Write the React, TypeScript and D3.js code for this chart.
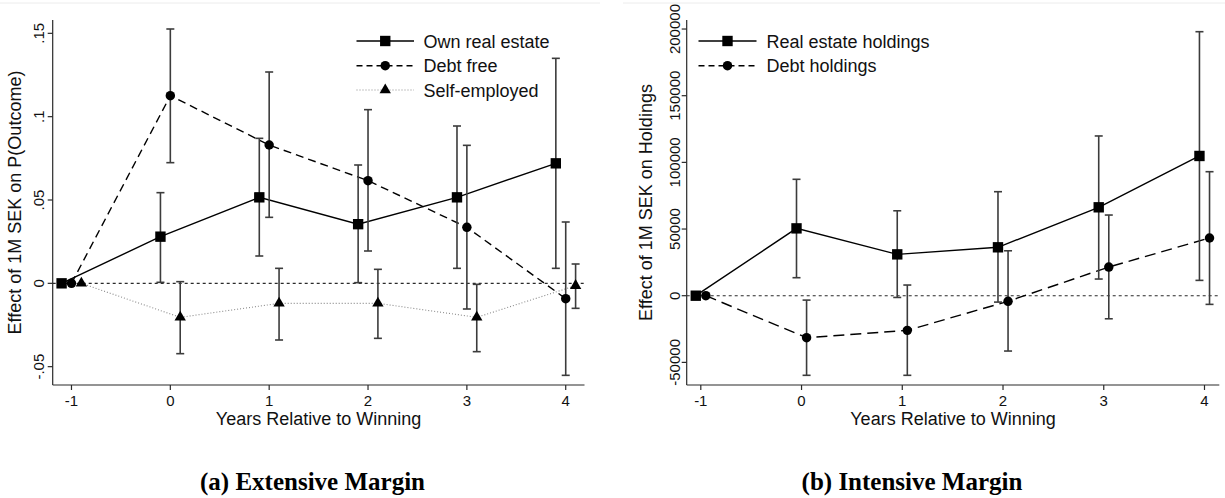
import React from "react";
import * as d3 from "d3";

// Event-time estimates: effect of a 1M SEK lottery prize, by year relative to winning
const years = [-1, 0, 1, 2, 3, 4];

// (a) Extensive margin: effect on the probability of each outcome
const ownRealEstate = [0, 0.028, 0.0516, 0.0355, 0.0516, 0.072];
const ownRealEstateLo = [null, 0.0006, 0.0164, 0.0004, 0.009, 0.009];
const ownRealEstateHi = [null, 0.0544, 0.087, 0.071, 0.0944, 0.135];

const debtFree = [0, 0.1126, 0.083, 0.0616, 0.0336, -0.0092];
const debtFreeLo = [null, 0.0724, 0.0396, 0.0194, -0.0154, -0.0552];
const debtFreeHi = [null, 0.1526, 0.1268, 0.1042, 0.0828, 0.0368];

const selfEmployed = [0, -0.0204, -0.012, -0.012, -0.0204, -0.0014];
const selfEmployedLo = [null, -0.0422, -0.034, -0.033, -0.041, -0.015];
const selfEmployedHi = [null, 0.001, 0.009, 0.0084, -0.0006, 0.0116];

// (b) Intensive margin: effect on holdings (SEK)
const realEstateHoldings = [0, 50500, 31000, 36300, 66300, 104800];
const realEstateHoldingsLo = [null, 13500, -1300, -4800, 12500, 11500];
const realEstateHoldingsHi = [null, 87300, 63700, 78000, 119800, 198000];

const debtHoldings = [0, -31500, -26000, -4200, 21500, 43300];
const debtHoldingsLo = [null, -59700, -59700, -41500, -17300, -6500];
const debtHoldingsHi = [null, -3300, 8000, 33700, 60500, 93000];

// Tick labels
const xTicks = [-1, 0, 1, 2, 3, 4];
const yTicksA = [-0.05, 0, 0.05, 0.1, 0.15];
const yTickLabelsA = ["-.05", "0", ".05", ".1", ".15"];
const yTicksB = [-50000, 0, 50000, 100000, 150000, 200000];
const yTickLabelsB = ["-50000", "0", "50000", "100000", "150000", "200000"];

type Series = {
  label: string;
  values: number[];
  lo: (number | null)[];
  hi: (number | null)[];
  offset: number;
  marker: "square" | "circle" | "triangle";
  dash: string | null;
  legendDash: string | null;
  stroke: string;
  width: number;
};

const SANS = "'Liberation Sans', Arial, Helvetica, sans-serif";
const SERIF = "'Liberation Serif', 'Times New Roman', serif";
const AXIS = "#2a2a2a";
const BAR = "#3c3c3c";

const markerPath = (m: Series["marker"]) => {
  const type =
    m === "square" ? d3.symbolSquare : m === "circle" ? d3.symbolCircle : d3.symbolTriangle;
  const size = m === "square" ? 108 : m === "circle" ? 70 : 56;
  return d3.symbol().type(type).size(size)() as string;
};

type PanelProps = {
  xRange: [number, number];
  xDomain: [number, number];
  yRange: [number, number];
  yDomain: [number, number];
  yTicks: number[];
  yTickLabels: string[];
  yTickBaseline: number;
  yTitle: string;
  yTitleBaseline: number;
  series: Series[];
  legend: { lineX0: number; lineX1: number; textX: number; rowY: number[] };
};

function Panel(p: PanelProps) {
  const x = d3.scaleLinear().domain(p.xDomain).range(p.xRange);
  const y = d3.scaleLinear().domain(p.yDomain).range(p.yRange);
  const [x0, x1] = p.xRange;
  const [yb, yt] = p.yRange;

  return (
    <g>
      {/* zero reference line */}
      <line x1={x0} x2={x1} y1={y(0)} y2={y(0)} stroke={AXIS} strokeWidth={1.1} strokeDasharray="3,3" />

      {/* series lines */}
      {p.series.map((s) => {
        const line = d3
          .line<number>()
          .x((_, i) => x(years[i] + s.offset))
          .y((v) => y(v));
        return (
          <path
            key={s.label + "-line"}
            d={line(s.values) as string}
            fill="none"
            stroke={s.stroke}
            strokeWidth={s.width}
            strokeDasharray={s.dash ?? undefined}
          />
        );
      })}

      {/* confidence intervals */}
      {p.series.map((s) =>
        s.values.map((_, i) => {
          const lo = s.lo[i];
          const hi = s.hi[i];
          if (lo == null || hi == null) return null;
          const cx = x(years[i] + s.offset);
          return (
            <g key={s.label + "-ci-" + i} stroke={BAR} strokeWidth={1.6}>
              <line x1={cx} x2={cx} y1={y(lo)} y2={y(hi)} />
              <line x1={cx - 4} x2={cx + 4} y1={y(lo)} y2={y(lo)} />
              <line x1={cx - 4} x2={cx + 4} y1={y(hi)} y2={y(hi)} />
            </g>
          );
        })
      )}

      {/* markers */}
      {p.series.map((s) =>
        s.values.map((v, i) => (
          <path
            key={s.label + "-m-" + i}
            d={markerPath(s.marker)}
            transform={`translate(${x(years[i] + s.offset)},${y(v)})`}
            fill="#000"
          />
        ))
      )}

      {/* axes */}
      <line x1={x0} x2={x0} y1={yt} y2={yb} stroke={AXIS} strokeWidth={1.2} />
      <line x1={x0} x2={x1} y1={yb} y2={yb} stroke={AXIS} strokeWidth={1.2} />

      {p.yTicks.map((t, i) => (
        <g key={"yt" + t}>
          <line x1={x0 - 5} x2={x0} y1={y(t)} y2={y(t)} stroke={AXIS} strokeWidth={1.2} />
          <text
            transform={`translate(${p.yTickBaseline},${y(t)}) rotate(-90)`}
            textAnchor="middle"
            fontFamily={SANS}
            fontSize={15}
            fill="#111"
          >
            {p.yTickLabels[i]}
          </text>
        </g>
      ))}

      {xTicks.map((t) => (
        <g key={"xt" + t}>
          <line x1={x(t)} x2={x(t)} y1={yb} y2={yb + 5} stroke={AXIS} strokeWidth={1.2} />
          <text x={x(t)} y={405.5} textAnchor="middle" fontFamily={SANS} fontSize={15} fill="#111">
            {t}
          </text>
        </g>
      ))}

      <text
        x={(x0 + x1) / 2}
        y={425}
        textAnchor="middle"
        fontFamily={SANS}
        fontSize={18}
        fill="#111"
      >
        Years Relative to Winning
      </text>
      <text
        transform={`translate(${p.yTitleBaseline},${(yb + yt) / 2}) rotate(-90)`}
        textAnchor="middle"
        fontFamily={SANS}
        fontSize={18}
        fill="#111"
      >
        {p.yTitle}
      </text>

      {/* legend */}
      {p.series.map((s, i) => {
        const ry = p.legend.rowY[i];
        const mx = (p.legend.lineX0 + p.legend.lineX1) / 2;
        return (
          <g key={s.label + "-leg"}>
            <line
              x1={p.legend.lineX0}
              x2={p.legend.lineX1}
              y1={ry}
              y2={ry}
              stroke={s.stroke}
              strokeWidth={s.width}
              strokeDasharray={s.legendDash ?? undefined}
            />
            <path d={markerPath(s.marker)} transform={`translate(${mx},${ry})`} fill="#000" />
            <text x={p.legend.textX} y={ry + 6.5} fontFamily={SANS} fontSize={18} fill="#111">
              {s.label}
            </text>
          </g>
        );
      })}
    </g>
  );
}

export default function App() {
  const seriesA: Series[] = [
    {
      label: "Own real estate",
      values: ownRealEstate,
      lo: ownRealEstateLo,
      hi: ownRealEstateHi,
      offset: -0.1,
      marker: "square",
      dash: null,
      legendDash: null,
      stroke: "#000",
      width: 1.4,
    },
    {
      label: "Debt free",
      values: debtFree,
      lo: debtFreeLo,
      hi: debtFreeHi,
      offset: 0,
      marker: "circle",
      dash: "8,5",
      legendDash: "6,4",
      stroke: "#000",
      width: 1.4,
    },
    {
      label: "Self-employed",
      values: selfEmployed,
      lo: selfEmployedLo,
      hi: selfEmployedHi,
      offset: 0.1,
      marker: "triangle",
      dash: "1,2",
      legendDash: "1,2",
      stroke: "#8a8a8a",
      width: 1.1,
    },
  ];

  const seriesB: Series[] = [
    {
      label: "Real estate holdings",
      values: realEstateHoldings,
      lo: realEstateHoldingsLo,
      hi: realEstateHoldingsHi,
      offset: -0.05,
      marker: "square",
      dash: null,
      legendDash: null,
      stroke: "#000",
      width: 1.4,
    },
    {
      label: "Debt holdings",
      values: debtHoldings,
      lo: debtHoldingsLo,
      hi: debtHoldingsHi,
      offset: 0.05,
      marker: "circle",
      dash: "11,6",
      legendDash: "6,4",
      stroke: "#000",
      width: 1.4,
    },
  ];

  return (
    <svg
      width={1225}
      height={498}
      viewBox="0 0 1225 498"
      style={{ position: "absolute", left: 0, top: 0, background: "#fff" }}
    >
      <rect width={1225} height={498} fill="#fff" />
      <line x1={0} x2={600} y1={3} y2={3} stroke="#ececec" strokeWidth={1} />
      <line x1={623} x2={1225} y1={3} y2={3} stroke="#ececec" strokeWidth={1} />

      <Panel
        xRange={[52.7, 584.5]}
        xDomain={[-1.19, 4.19]}
        yRange={[385, 20]}
        yDomain={[-0.061, 0.158]}
        yTicks={yTicksA}
        yTickLabels={yTickLabelsA}
        yTickBaseline={43.5}
        yTitle="Effect of 1M SEK on P(Outcome)"
        yTitleBaseline={21}
        series={seriesA}
        legend={{ lineX0: 356.5, lineX1: 414, textX: 423.5, rowY: [41, 65.7, 90] }}
      />
      <Panel
        xRange={[686.7, 1219.3]}
        xDomain={[-1.14, 4.147]}
        yRange={[385, 20]}
        yDomain={[-66970, 206775]}
        yTicks={yTicksB}
        yTickLabels={yTickLabelsB}
        yTickBaseline={680}
        yTitle="Effect of 1M SEK on Holdings"
        yTitleBaseline={652}
        series={seriesB}
        legend={{ lineX0: 698.5, lineX1: 756.5, textX: 766.5, rowY: [41, 65.7] }}
      />

      <text x={312.5} y={490} textAnchor="middle" fontFamily={SERIF} fontWeight="bold" fontSize={25} fill="#000">
        (a) Extensive Margin
      </text>
      <text x={912} y={490} textAnchor="middle" fontFamily={SERIF} fontWeight="bold" fontSize={25} fill="#000">
        (b) Intensive Margin
      </text>
    </svg>
  );
}
